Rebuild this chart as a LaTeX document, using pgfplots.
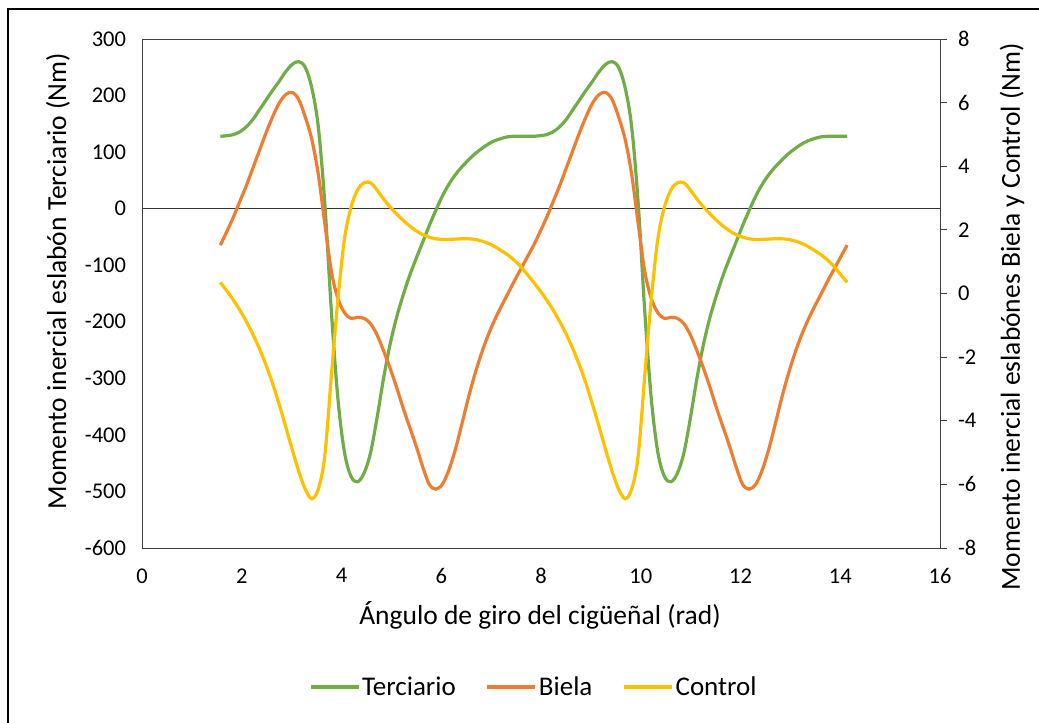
\documentclass[border=0pt]{standalone}
\usepackage{fontspec}
\setmainfont{Carlito}
\usepackage{pgfplots}
\pgfplotsset{compat=1.18}
\usepackage{pgfplotstable}
\definecolor{cT}{HTML}{70AD47}
\definecolor{cB}{HTML}{ED7D31}
\definecolor{cC}{HTML}{FFC000}

\pgfplotstableread{
x T B C
1.5708 128 1.52 0.35
1.7017 129 1.95 0.08
1.8326 131 2.4 -0.21
1.9635 136 2.9 -0.53
2.0944 145 3.4 -0.89
2.2253 158 3.95 -1.29
2.3562 175 4.5 -1.74
2.4871 192 5.05 -2.25
2.6180 209 5.55 -2.83
2.7489 225 5.98 -3.48
2.8798 242 6.25 -4.18
3.0107 255 6.32 -4.90
3.1416 260 6.1 -5.58
3.2725 250 5.55 -6.15
3.4034 214 4.85 -6.45
3.5343 145 3.75 -6.15
3.6652 10 2.2 -5.1
3.7961 -180 0.7 -2.6
3.9270 -335 -0.15 -0.2
4.0579 -430 -0.6 1.7
4.1888 -473 -0.78 2.7
4.3197 -483 -0.75 3.25
4.4506 -468 -0.78 3.48
4.5815 -432 -0.95 3.48
4.7124 -370 -1.3 3.25
4.8433 -300 -1.8 2.97
4.9742 -240 -2.35 2.72
5.1051 -192 -2.95 2.5
5.2360 -153 -3.6 2.3
5.3669 -118 -4.2 2.12
5.4978 -88 -4.8 1.97
5.6287 -59 -5.45 1.85
5.7596 -30 -6.0 1.77
5.8905 -3 -6.15 1.72
6.0214 22 -6.0 1.70
6.1523 43 -5.55 1.70
6.2832 60 -4.9 1.71
6.4141 74 -4.1 1.72
6.5450 86 -3.27 1.72
6.6759 97 -2.53 1.70
6.8068 106 -1.88 1.65
6.9377 114 -1.32 1.58
7.0686 120 -0.84 1.48
7.1995 124 -0.42 1.35
7.3304 127 -0.02 1.22
7.4613 128 0.38 1.05
7.5922 128 0.76 0.85
7.7231 128 1.14 0.6
7.8540 128 1.52 0.35
7.9849 129 1.95 0.08
8.1158 131 2.4 -0.21
8.2467 136 2.9 -0.53
8.3776 145 3.4 -0.89
8.5085 158 3.95 -1.29
8.6394 175 4.5 -1.74
8.7703 192 5.05 -2.25
8.9012 209 5.55 -2.83
9.0321 225 5.98 -3.48
9.1630 242 6.25 -4.18
9.2939 255 6.32 -4.90
9.4248 260 6.1 -5.58
9.5557 250 5.55 -6.15
9.6866 214 4.85 -6.45
9.8175 145 3.75 -6.15
9.9484 10 2.2 -5.1
10.0793 -180 0.7 -2.6
10.2102 -335 -0.15 -0.2
10.3411 -430 -0.6 1.7
10.4720 -473 -0.78 2.7
10.6029 -483 -0.75 3.25
10.7338 -468 -0.78 3.48
10.8647 -432 -0.95 3.48
10.9956 -370 -1.3 3.25
11.1265 -300 -1.8 2.97
11.2574 -240 -2.35 2.72
11.3883 -192 -2.95 2.5
11.5192 -153 -3.6 2.3
11.6501 -118 -4.2 2.12
11.7810 -88 -4.8 1.97
11.9119 -59 -5.45 1.85
12.0428 -30 -6.0 1.77
12.1737 -3 -6.15 1.72
12.3046 22 -6.0 1.70
12.4355 43 -5.55 1.70
12.5664 60 -4.9 1.71
12.6973 74 -4.1 1.72
12.8282 86 -3.27 1.72
12.9591 97 -2.53 1.70
13.0900 106 -1.88 1.65
13.2209 114 -1.32 1.58
13.3518 120 -0.84 1.48
13.4827 124 -0.42 1.35
13.6136 127 -0.02 1.22
13.7445 128 0.38 1.05
13.8754 128 0.76 0.85
14.0063 128 1.14 0.6
14.1372 128 1.52 0.35
}\data

\begin{document}
\begin{tikzpicture}
\useasboundingbox (0pt,0pt) rectangle (1039pt,723pt);
\draw[line width=2pt] (8pt,-2pt) -- (8pt,714pt) -- (1041pt,714pt);
\begin{axis}[
  at={(142pt,175pt)}, anchor=south west, scale only axis,
  width=798pt, height=509pt,
  xmin=0, xmax=16, ymin=-600, ymax=300,
  xtick={0,2,...,16}, ytick={-600,-500,...,300},
  axis line style={black!75, line width=0.8pt},
  tick style={draw=none},
  /pgf/number format/assume math mode=true,
  ticklabel style={font=\fontsize{22.5}{27}\selectfont},
  yticklabel style={xshift=-12.5pt},
  xticklabel style={yshift=-17pt},
]
\draw[black!80, line width=0.8pt] (axis cs:0,0) -- (axis cs:16,0);
\addplot[cT, line width=3.2pt, smooth, tension=0.55, no markers] table[x=x, y=T] {\data};
\end{axis}
\begin{axis}[
  at={(142pt,175pt)}, anchor=south west, scale only axis,
  width=798pt, height=509pt,
  xmin=0, xmax=16, ymin=-8, ymax=8,
  ytick={-8,-6,...,8},
  axis x line=none, axis y line*=right,
  y axis line style={black!75, line width=0.8pt},
  ytick style={black!75, line width=0.8pt},
  tick align=outside, major tick length=7pt,
  /pgf/number format/assume math mode=true,
  ticklabel style={font=\fontsize{22.5}{27}\selectfont},
  yticklabel style={xshift=7.5pt},
  legend style={at={(0.491,-0.273)}, anchor=center, draw=none, fill=none,
    legend columns=3, font=\fontsize{27}{32}\selectfont,
    /tikz/every even column/.append style={column sep=28pt}},
  legend image code/.code={\draw[#1, line width=3.2pt] (0pt,0pt) -- (48pt,0pt);},
]
\addlegendimage{cT}
\addlegendentry{Terciario}
\addplot[cB, line width=3.2pt, smooth, tension=0.55, no markers] table[x=x, y=B] {\data};
\addlegendentry{Biela}
\addplot[cC, line width=3.2pt, smooth, tension=0.55, no markers] table[x=x, y=C] {\data};
\addlegendentry{Control}
\end{axis}
\node[rotate=90, font=\fontsize{27.5}{33}\selectfont] at (58pt,442pt) {Momento inercial eslabón Terciario (Nm)};
\node[rotate=90, font=\fontsize{27.5}{33}\selectfont] at (1012pt,406pt) {Momento inercial eslabónes Biela y Control (Nm)};
\node[font=\fontsize{27.5}{33}\selectfont] at (540pt,108pt) {Ángulo de giro del cigüeñal (rad)};
\end{tikzpicture}
\end{document}
